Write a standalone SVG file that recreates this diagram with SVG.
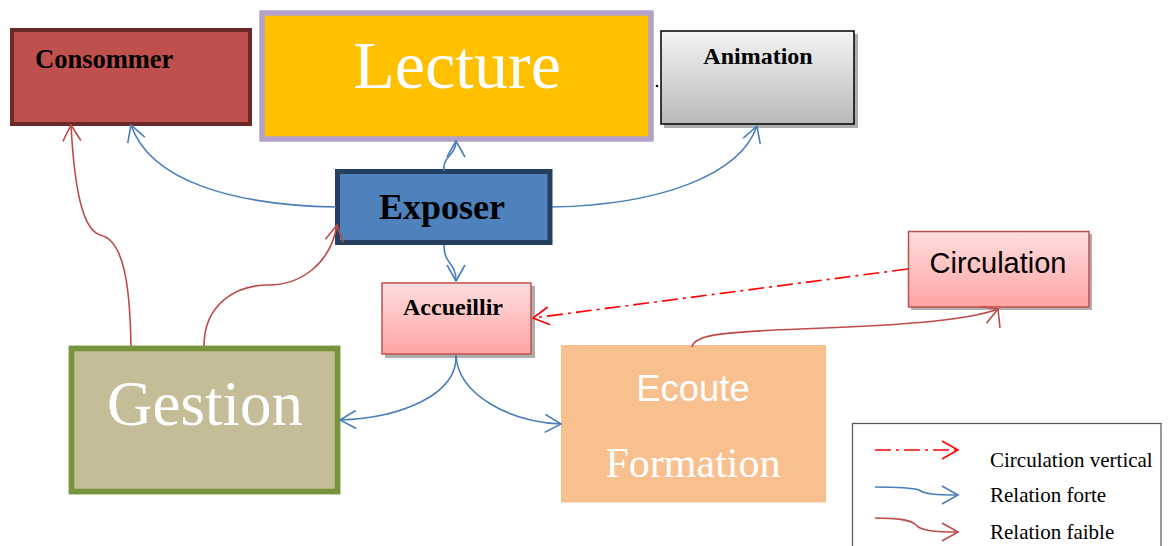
<svg xmlns="http://www.w3.org/2000/svg" width="1171" height="546" viewBox="0 0 1171 546">
<style>
.serif{font-family:"Liberation Serif","Times New Roman",serif}
.sans{font-family:"Liberation Sans",Arial,sans-serif}
.b{font-weight:bold}
.blue{fill:none;stroke:#4a7ebb;stroke-width:1.6}
.red{fill:none;stroke:#be4b48;stroke-width:1.6}
.dd{fill:none;stroke:#ff0000;stroke-width:1.6;stroke-dasharray:16 5 3 5}
.shadow{fill:#9a9a9a;opacity:0.8}
</style>
<defs>
<marker id="mb" markerUnits="userSpaceOnUse" viewBox="-18 -11 20 22" refX="0" refY="0" markerWidth="20" markerHeight="22" orient="auto">
<path d="M-16,-9 L0,0 L-16,9" fill="none" stroke="#4a7ebb" stroke-width="1.6"/>
</marker>
<marker id="mr" markerUnits="userSpaceOnUse" viewBox="-18 -11 20 22" refX="0" refY="0" markerWidth="20" markerHeight="22" orient="auto">
<path d="M-16,-9 L0,0 L-16,9" fill="none" stroke="#be4b48" stroke-width="1.6"/>
</marker>
<marker id="md" markerUnits="userSpaceOnUse" viewBox="-18 -11 20 22" refX="0" refY="0" markerWidth="20" markerHeight="22" orient="auto">
<path d="M-16,-9 L0,0 L-16,9" fill="none" stroke="#ff0000" stroke-width="1.6"/>
</marker>
<linearGradient id="gGray" x1="0" y1="0" x2="0" y2="1">
<stop offset="0" stop-color="#f4f4f4"/><stop offset="1" stop-color="#b9b9b9"/>
</linearGradient>
<linearGradient id="gPink" x1="0" y1="0" x2="0" y2="1">
<stop offset="0" stop-color="#ffdede"/><stop offset="1" stop-color="#ffa4a4"/>
</linearGradient>
</defs>
<rect width="1171" height="546" fill="#ffffff"/>

<g id="consommer">
<rect x="12" y="30" width="238" height="94" fill="#c0504d" stroke="#692a28" stroke-width="4"/>
<text x="35" y="68" class="serif b" font-size="26.5" fill="#000">Consommer</text>
</g>

<g id="lecture">
<rect x="262" y="13" width="389" height="126" fill="#ffc000" stroke="#b3a2c7" stroke-width="5.5"/>
<text x="457" y="88" class="serif" font-size="68" fill="#ffffff" text-anchor="middle">Lecture</text>
</g>

<g id="animation">
<rect x="664" y="34" width="194" height="94" class="shadow"/>
<rect x="661" y="31" width="193" height="93" fill="url(#gGray)" stroke="#000" stroke-width="1.5"/>
<text x="758" y="64" class="serif b" font-size="24" fill="#000" text-anchor="middle">Animation</text>
<circle cx="657" cy="86" r="1.3" fill="#000"/>
</g>

<g id="exposer">
<rect x="337.5" y="171.5" width="212.5" height="71" fill="#4f81bd" stroke="#243f60" stroke-width="5"/>
<text x="442" y="219" class="serif b" font-size="36" fill="#000" text-anchor="middle">Exposer</text>
</g>

<g id="accueillir">
<rect x="385" y="286" width="150" height="72" class="shadow"/>
<rect x="382" y="283" width="149" height="71" fill="url(#gPink)" stroke="#c0504d" stroke-width="1.5"/>
<text x="453" y="315" class="serif b" font-size="24" fill="#000" text-anchor="middle">Accueillir</text>
</g>

<g id="circulation">
<rect x="911" y="234" width="181" height="76" class="shadow"/>
<rect x="908.5" y="231.5" width="180.5" height="75.5" fill="url(#gPink)" stroke="#c0504d" stroke-width="1.5"/>
<text x="998" y="273" class="sans" font-size="29" fill="#000" text-anchor="middle">Circulation</text>
</g>

<g id="gestion">
<rect x="68.5" y="345.5" width="272" height="149" fill="none" stroke="#e3e6d4" stroke-width="1"/>
<rect x="71.5" y="348.5" width="266" height="143" fill="#c4bd97" stroke="#77933c" stroke-width="5.5"/>
<text x="205" y="425" class="serif" font-size="63" fill="#ffffff" text-anchor="middle">Gestion</text>
</g>

<g id="ecoute">
<rect x="561" y="345" width="265" height="157.5" fill="#f9c08f"/>
<text x="693" y="401" class="sans" font-size="36.5" fill="#ffffff" text-anchor="middle">Ecoute</text>
<text x="693" y="477" class="serif" font-size="42" fill="#ffffff" text-anchor="middle">Formation</text>
</g>

<g id="connectors">
<path class="blue" d="M336,207 C230,205 150,180 131,125" marker-end="url(#mb)"/>
<path class="blue" d="M444,171 C442,156 456,156 456,141" marker-end="url(#mb)"/>
<path class="blue" d="M552,207 C660,205 740,175 757,126" marker-end="url(#mb)"/>
<path class="blue" d="M444,245 C444,265 456,262 456,281" marker-end="url(#mb)"/>
<path class="blue" d="M456,355 C458,395 400,418 340,420" marker-end="url(#mb)"/>
<path class="blue" d="M456,355 C458,395 510,422 561,424" marker-end="url(#mb)"/>
<path class="red" d="M131,346 C130,290 125,240 100,235 C85,230 75,200 71,125" marker-end="url(#mr)"/>
<path class="red" d="M204,346 C204,305 235,285 268,285 C300,285 330,265 337,225" marker-end="url(#mr)"/>
<path class="red" d="M692,347 C694,335 720,332 800,329 C880,326 965,322 998,309" marker-end="url(#mr)"/>
<path class="red" d="M998,309 L1000,328"/>
<path class="dd" d="M908,269 L533,318" marker-end="url(#md)"/>
</g>

<g id="legend">
<rect x="852.5" y="423.5" width="308.5" height="130" fill="#ffffff" stroke="#555" stroke-width="1.2"/>
<path class="dd" d="M875,450 L958,450" marker-end="url(#md)"/>
<path class="blue" d="M875,487 C900,487 913,488 919,490 C925,494 935,495 958,495" marker-end="url(#mb)"/>
<path class="red" d="M875,518 C900,518 911,520 916,525 C921,531 935,532 958,532" marker-end="url(#mr)"/>
<text x="990" y="467" class="serif" font-size="21" fill="#000">Circulation vertical</text>
<text x="990" y="502" class="serif" font-size="21" fill="#000">Relation forte</text>
<text x="990" y="539" class="serif" font-size="21" fill="#000">Relation faible</text>
</g>
</svg>
